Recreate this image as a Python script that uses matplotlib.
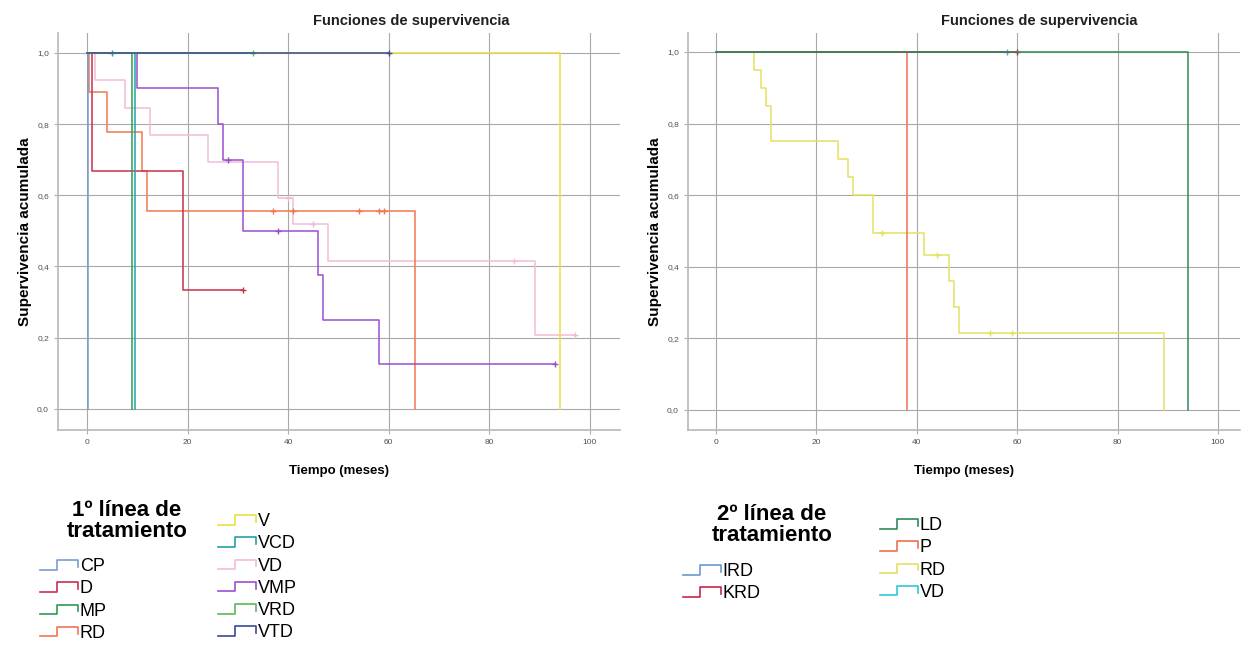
import matplotlib.pyplot as plt
import numpy as np
from matplotlib.legend_handler import HandlerBase
from matplotlib.lines import Line2D
from matplotlib.ticker import FuncFormatter

plt.rcParams["font.family"] = ["Liberation Sans", "DejaVu Sans"]

# ---- 1st line of treatment (months, cumulative survival, censored times) ----
CP_T, CP_S, CP_C = [0, 0.2], [1.0, 0.0], []
D_T, D_S, D_C = [0, 1, 19, 31], [1.0, 0.667, 0.333, 0.333], [31]
MP_T, MP_S, MP_C = [0, 9], [1.0, 0.0], []
RD_T = [0, 0.3, 4, 11, 12, 65.3]
RD_S = [1.0, 0.889, 0.778, 0.667, 0.556, 0.0]
RD_C = [37, 41, 54, 58, 59]
V_T, V_S, V_C = [0, 94], [1.0, 0.0], []
VCD_T, VCD_S, VCD_C = [0, 9.5], [1.0, 0.0], [5]
VD_T = [0, 1.5, 7.5, 12.5, 24, 38, 41, 48, 89, 97]
VD_S = [1.0, 0.923, 0.846, 0.769, 0.692, 0.593, 0.519, 0.415, 0.207, 0.207]
VD_C = [40, 45, 85, 97]
VMP_T = [0, 10, 26, 27, 31, 46, 47, 58, 93]
VMP_S = [1.0, 0.9, 0.8, 0.7, 0.5, 0.375, 0.25, 0.125, 0.125]
VMP_C = [28, 38, 93]
VRD_T, VRD_S, VRD_C = [0, 33], [1.0, 1.0], [33]
VTD_T, VTD_S, VTD_C = [0, 60], [1.0, 1.0], [60]

# ---- 2nd line of treatment ----
IRD2_T, IRD2_S, IRD2_C = [0, 58], [1.0, 1.0], [58]
KRD2_T, KRD2_S, KRD2_C = [0, 60], [1.0, 1.0], [60]
LD2_T, LD2_S, LD2_C = [0, 94], [1.0, 0.0], []
P2_T, P2_S, P2_C = [0, 38], [1.0, 0.0], []
RD2_T = [0, 7.5, 9, 10, 11, 24.2, 26.2, 27.2, 31.2, 41.4, 46.4, 47.5, 48.4, 89.3]
RD2_S = [1.0, 0.95, 0.90, 0.85, 0.75, 0.70, 0.65, 0.60, 0.494, 0.432, 0.36, 0.288, 0.216, 0.0]
RD2_C = [33, 44, 54.5, 59]
VD2_T, VD2_S, VD2_C = [0, 20], [1.0, 1.0], []

LINE1 = [
    ("CP", CP_T, CP_S, CP_C, "#7a9cd0"),
    ("D", D_T, D_S, D_C, "#c8304e"),
    ("MP", MP_T, MP_S, MP_C, "#2e9b55"),
    ("RD", RD_T, RD_S, RD_C, "#f07850"),
    ("V", V_T, V_S, V_C, "#e8e040"),
    ("VCD", VCD_T, VCD_S, VCD_C, "#22a0a8"),
    ("VD", VD_T, VD_S, VD_C, "#f2bcd8"),
    ("VMP", VMP_T, VMP_S, VMP_C, "#9a4fd0"),
    ("VRD", VRD_T, VRD_S, VRD_C, "#5cb85c"),
    ("VTD", VTD_T, VTD_S, VTD_C, "#3a4a98"),
]
LINE2 = [
    ("IRD", IRD2_T, IRD2_S, IRD2_C, "#6a9ad0"),
    ("KRD", KRD2_T, KRD2_S, KRD2_C, "#c8284c"),
    ("LD", LD2_T, LD2_S, LD2_C, "#2f8a5a"),
    ("P", P2_T, P2_S, P2_C, "#f07050"),
    ("RD", RD2_T, RD2_S, RD2_C, "#e6e060"),
    ("VD", VD2_T, VD2_S, VD2_C, "#30c8d8"),
]

W, H = 1241, 650


class StepHandler(HandlerBase):
    """Small step-shaped legend icon, SPSS style."""

    def create_artists(self, legend, orig_handle, xdescent, ydescent,
                       width, height, fontsize, trans):
        xs = np.array([0, 0.45, 0.45, 1.0, 1.0]) * width - xdescent
        ys = np.array([0.15, 0.15, 0.85, 0.85, 0.35]) * height - ydescent
        ln = Line2D(xs, ys, color=orig_handle.get_color(), lw=1.2, transform=trans)
        return [ln]


def km(ax, t, s, cens, color):
    ax.step(t, s, where="post", color=color, lw=1.1)
    if cens:
        idx = np.searchsorted(t, cens, side="right") - 1
        ax.plot(cens, np.array(s)[idx], ls="none", marker="+", ms=5,
                mew=1.0, color=color)


def style_axes(ax, xlim, ylim):
    ax.set_xlim(*xlim)
    ax.set_ylim(*ylim)
    ax.set_xticks([0, 20, 40, 60, 80, 100])
    ax.set_yticks([0.0, 0.2, 0.4, 0.6, 0.8, 1.0])
    ax.yaxis.set_major_formatter(FuncFormatter(lambda v, p: f"{v:.1f}".replace(".", ",")))
    ax.grid(True, color="#a8a8a8", lw=0.8)
    ax.set_axisbelow(True)
    for sp in ("top", "right"):
        ax.spines[sp].set_visible(False)
    for sp in ("left", "bottom"):
        ax.spines[sp].set_color("#b8b8b8")
        ax.spines[sp].set_linewidth(1.2)
    ax.tick_params(labelsize=6, colors="#b0b0b0", labelcolor="#505050", length=3)
    ax.set_xlabel("Tiempo (meses)", fontsize=9.5, fontweight="bold", labelpad=14)
    ax.set_ylabel("Supervivencia acumulada", fontsize=11, fontweight="bold", labelpad=4)


fig = plt.figure(figsize=(W / 100, H / 100), dpi=100)
ax1 = fig.add_axes([58 / W, 1 - 430 / H, (620 - 58) / W, (430 - 33) / H])
ax2 = fig.add_axes([688 / W, 1 - 430 / H, (1240 - 688) / W, (430 - 33) / H])

draw_order1 = [6, 3, 7, 1, 0, 2, 5, 4, 8, 9]
for i in draw_order1:
    name, t, s, c, col = LINE1[i]
    km(ax1, t, s, c, col)
draw_order2 = [4, 3, 0, 5, 1, 2]
for i in draw_order2:
    name, t, s, c, col = LINE2[i]
    km(ax2, t, s, c, col)

style_axes(ax1, (-5.8, 106), (-0.06, 1.056))
style_axes(ax2, (-5.6, 104.4), (-0.056, 1.053))

fig.text(411 / W, 1 - 21 / H, "Funciones de supervivencia", ha="center", va="center",
         fontsize=10.5, fontweight="bold", color="#202020")
fig.text(1039 / W, 1 - 21 / H, "Funciones de supervivencia", ha="center", va="center",
         fontsize=10.5, fontweight="bold", color="#202020")

# legend titles
fig.text(127 / W, 1 - 521 / H, "1º línea de\ntratamiento", ha="center", va="center",
         fontsize=16, fontweight="bold", linespacing=1.03)
fig.text(772 / W, 1 - 525 / H, "2º línea de\ntratamiento", ha="center", va="center",
         fontsize=16, fontweight="bold", linespacing=1.03)


def column_legend(entries, x_px, top_px):
    handles = [Line2D([], [], color=e[4]) for e in entries]
    labels = [e[0] for e in entries]
    fig.legend(handles, labels, loc="upper left",
               bbox_to_anchor=(x_px / W, 1 - top_px / H),
               frameon=False, fontsize=13, handlelength=2.1, handleheight=0.8,
               handletextpad=0.1, labelspacing=0.28, borderpad=0, borderaxespad=0,
               handler_map={Line2D: StepHandler()})


column_legend(LINE1[0:4], 40, 558)
column_legend(LINE1[4:10], 218, 513)
column_legend(LINE2[0:2], 683, 563)
column_legend(LINE2[2:6], 880, 517)

fig.savefig("out.png", dpi=100)
